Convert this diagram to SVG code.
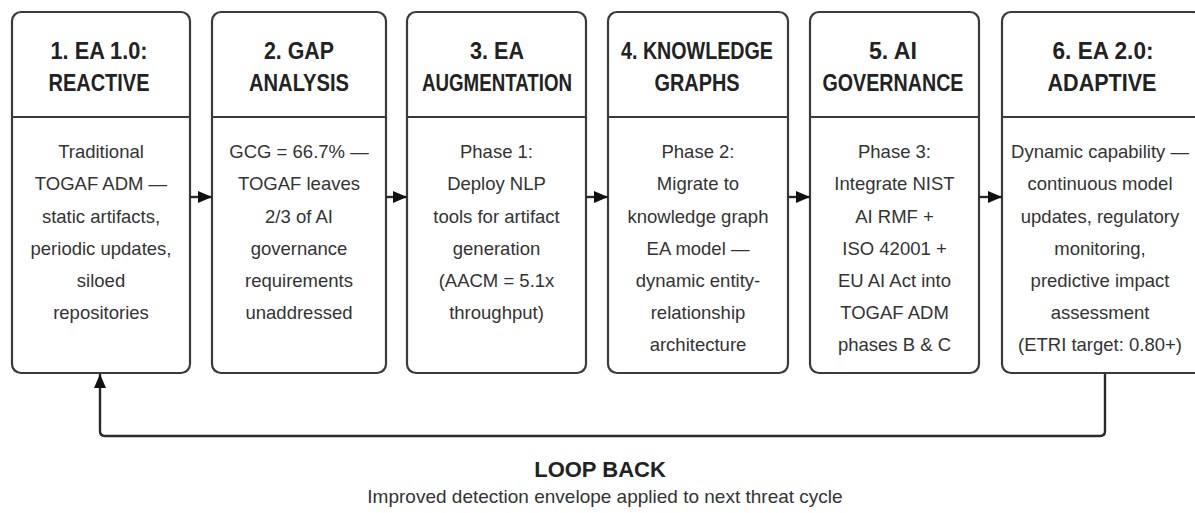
<svg xmlns="http://www.w3.org/2000/svg" width="1195" height="513" viewBox="0 0 1195 513">
<defs>
<style>
.box{fill:#fff;stroke:#3a3a3a;stroke-width:2.2}
.div{stroke:#3a3a3a;stroke-width:2.2}
.hd{font-family:"Liberation Sans",Arial,sans-serif;font-weight:bold;font-size:24px;fill:#222;text-anchor:middle}
.bd{font-family:"Liberation Sans",Arial,sans-serif;font-size:18.5px;fill:#333;text-anchor:middle}
.con{fill:none;stroke:#2a2a2a;stroke-width:2.4}
.lb{font-family:"Liberation Sans",Arial,sans-serif;font-weight:bold;font-size:22px;fill:#222;text-anchor:middle}
.sub{font-family:"Liberation Sans",Arial,sans-serif;font-size:19px;fill:#333;text-anchor:middle}
</style>
<marker id="ah" viewBox="0 0 14 12" refX="14" refY="6" markerWidth="14" markerHeight="12" markerUnits="userSpaceOnUse" orient="auto">
<path d="M0,0 L14,6 L0,12 Z" fill="#111"/>
</marker>
</defs>
<rect width="1195" height="513" fill="#fff"/>

<g id="node1">
<rect class="box" x="12" y="12" width="178" height="361" rx="9"/>
<line class="div" x1="12" y1="117" x2="190" y2="117"/>
<text class="hd" x="99" y="59" textLength="97" lengthAdjust="spacingAndGlyphs">1. EA 1.0:</text>
<text class="hd" x="99" y="91" textLength="101" lengthAdjust="spacingAndGlyphs">REACTIVE</text>
<text class="bd" x="101" y="158">Traditional</text>
<text class="bd" x="101" y="190">TOGAF ADM —</text>
<text class="bd" x="101" y="223">static artifacts,</text>
<text class="bd" x="101" y="255">periodic updates,</text>
<text class="bd" x="101" y="287">siloed</text>
<text class="bd" x="101" y="319">repositories</text>
</g>

<g id="node2">
<rect class="box" x="212" y="12" width="174" height="361" rx="9"/>
<line class="div" x1="212" y1="117" x2="386" y2="117"/>
<text class="hd" x="299" y="59" textLength="70" lengthAdjust="spacingAndGlyphs">2. GAP</text>
<text class="hd" x="299" y="91" textLength="100" lengthAdjust="spacingAndGlyphs">ANALYSIS</text>
<text class="bd" x="299" y="158">GCG = 66.7% —</text>
<text class="bd" x="299" y="190">TOGAF leaves</text>
<text class="bd" x="299" y="223">2/3 of AI</text>
<text class="bd" x="299" y="255">governance</text>
<text class="bd" x="299" y="287">requirements</text>
<text class="bd" x="299" y="319">unaddressed</text>
</g>

<g id="node3">
<rect class="box" x="407" y="12" width="179" height="361" rx="9"/>
<line class="div" x1="407" y1="117" x2="586" y2="117"/>
<text class="hd" x="497" y="59" textLength="54" lengthAdjust="spacingAndGlyphs">3. EA</text>
<text class="hd" x="497" y="91" textLength="150" lengthAdjust="spacingAndGlyphs">AUGMENTATION</text>
<text class="bd" x="496.5" y="158">Phase 1:</text>
<text class="bd" x="496.5" y="190">Deploy NLP</text>
<text class="bd" x="496.5" y="223">tools for artifact</text>
<text class="bd" x="496.5" y="255">generation</text>
<text class="bd" x="496.5" y="287">(AACM = 5.1x</text>
<text class="bd" x="496.5" y="319">throughput)</text>
</g>

<g id="node4">
<rect class="box" x="608" y="12" width="180" height="361" rx="9"/>
<line class="div" x1="608" y1="117" x2="788" y2="117"/>
<text class="hd" x="697" y="59" textLength="152" lengthAdjust="spacingAndGlyphs">4. KNOWLEDGE</text>
<text class="hd" x="697" y="91" textLength="85" lengthAdjust="spacingAndGlyphs">GRAPHS</text>
<text class="bd" x="698" y="158">Phase 2:</text>
<text class="bd" x="698" y="190">Migrate to</text>
<text class="bd" x="698" y="223">knowledge graph</text>
<text class="bd" x="698" y="255">EA model —</text>
<text class="bd" x="698" y="287">dynamic entity-</text>
<text class="bd" x="698" y="319">relationship</text>
<text class="bd" x="698" y="351">architecture</text>
</g>

<g id="node5">
<rect class="box" x="810" y="12" width="169" height="361" rx="9"/>
<line class="div" x1="810" y1="117" x2="979" y2="117"/>
<text class="hd" x="893" y="59" textLength="48" lengthAdjust="spacingAndGlyphs">5. AI</text>
<text class="hd" x="893" y="91" textLength="141" lengthAdjust="spacingAndGlyphs">GOVERNANCE</text>
<text class="bd" x="894.5" y="158">Phase 3:</text>
<text class="bd" x="894.5" y="190">Integrate NIST</text>
<text class="bd" x="894.5" y="223">AI RMF +</text>
<text class="bd" x="894.5" y="255">ISO 42001 +</text>
<text class="bd" x="894.5" y="287">EU AI Act into</text>
<text class="bd" x="894.5" y="319">TOGAF ADM</text>
<text class="bd" x="894.5" y="351">phases B &amp; C</text>
</g>

<g id="node6">
<rect class="box" x="1002" y="12" width="200" height="361" rx="9"/>
<line class="div" x1="1002" y1="117" x2="1202" y2="117"/>
<text class="hd" x="1103" y="59" textLength="101" lengthAdjust="spacingAndGlyphs">6. EA 2.0:</text>
<text class="hd" x="1102" y="91" textLength="109" lengthAdjust="spacingAndGlyphs">ADAPTIVE</text>
<text class="bd" x="1100" y="158">Dynamic capability —</text>
<text class="bd" x="1100" y="190">continuous model</text>
<text class="bd" x="1100" y="223">updates, regulatory</text>
<text class="bd" x="1100" y="255">monitoring,</text>
<text class="bd" x="1100" y="287">predictive impact</text>
<text class="bd" x="1100" y="319">assessment</text>
<text class="bd" x="1100" y="351">(ETRI target: 0.80+)</text>
</g>

<g id="connectors">
<line class="con" x1="190" y1="197" x2="212" y2="197" marker-end="url(#ah)"/>
<line class="con" x1="386" y1="197" x2="407" y2="197" marker-end="url(#ah)"/>
<line class="con" x1="586" y1="197" x2="608" y2="197" marker-end="url(#ah)"/>
<line class="con" x1="788" y1="197" x2="810" y2="197" marker-end="url(#ah)"/>
<line class="con" x1="979" y1="197" x2="1002" y2="197" marker-end="url(#ah)"/>
<path class="con" d="M1105,374 L1105,431 Q1105,436 1100,436 L105,436 Q100,436 100,431 L100,374" marker-end="url(#ah)"/>
</g>

<g id="loop-label">
<text class="lb" x="600" y="477">LOOP BACK</text>
<text class="sub" x="605" y="503">Improved detection envelope applied to next threat cycle</text>
</g>
</svg>
